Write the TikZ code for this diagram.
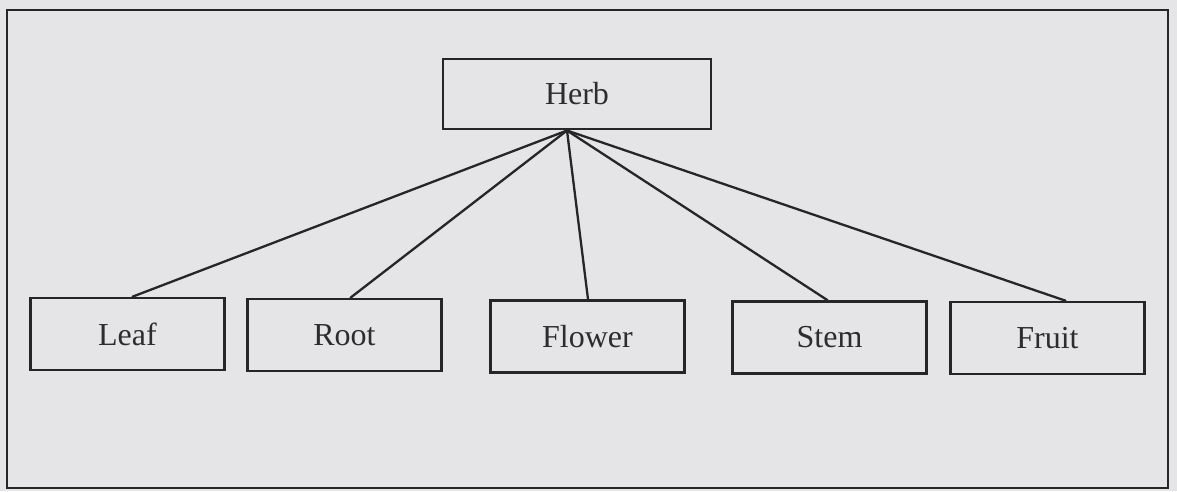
\documentclass[tikz,border=0pt]{standalone}
\usepackage{fontspec}
\setmainfont{Liberation Serif}
\definecolor{paper}{RGB}{229,229,232}
\definecolor{ink}{RGB}{38,38,40}
\definecolor{textink}{RGB}{45,45,47}
\begin{document}
\begin{tikzpicture}[x=1pt,y=-1pt,
  partbox/.style={draw=ink, line width=2.6pt, inner sep=0pt,
    minimum width=#1, minimum height=72pt, text=textink,
    font=\fontsize{32}{37}\selectfont},
  partbox/.default=194pt,
  branch/.style={draw=ink, line width=2.3pt, line cap=round}]
  % page area and outer frame
  \fill[paper] (0,0) rectangle (1177,491);
  \useasboundingbox (0,0) rectangle (1177,491);
  \draw[ink, line width=2.6pt] (7,10) rectangle (1168,488);

  % root of the hierarchy
  \node[partbox=268pt, minimum height=70pt] (herb) at (577,94) {Herb};
  \coordinate (hub) at (567,130.5);

  % plant parts
  \node[partbox] (leaf)   at (127.5,334) {Leaf};
  \node[partbox] (root)   at (344.5,335) {Root};
  \node[partbox] (flower) at (587.5,336.5) {Flower};
  \node[partbox] (stem)   at (829.5,337.5) {Stem};
  \node[partbox] (fruit)  at (1047.5,338) {Fruit};

  % branches from the herb to each part
  \draw[branch] (hub) -- ([xshift=5pt]leaf.north);
  \draw[branch] (hub) -- ([xshift=6pt]root.north);
  \draw[branch] (hub) -- ([xshift=0.5pt]flower.north);
  \draw[branch] (hub) -- ([xshift=-2pt]stem.north);
  \draw[branch] (hub) -- ([xshift=18pt]fruit.north);
\end{tikzpicture}
\end{document}
